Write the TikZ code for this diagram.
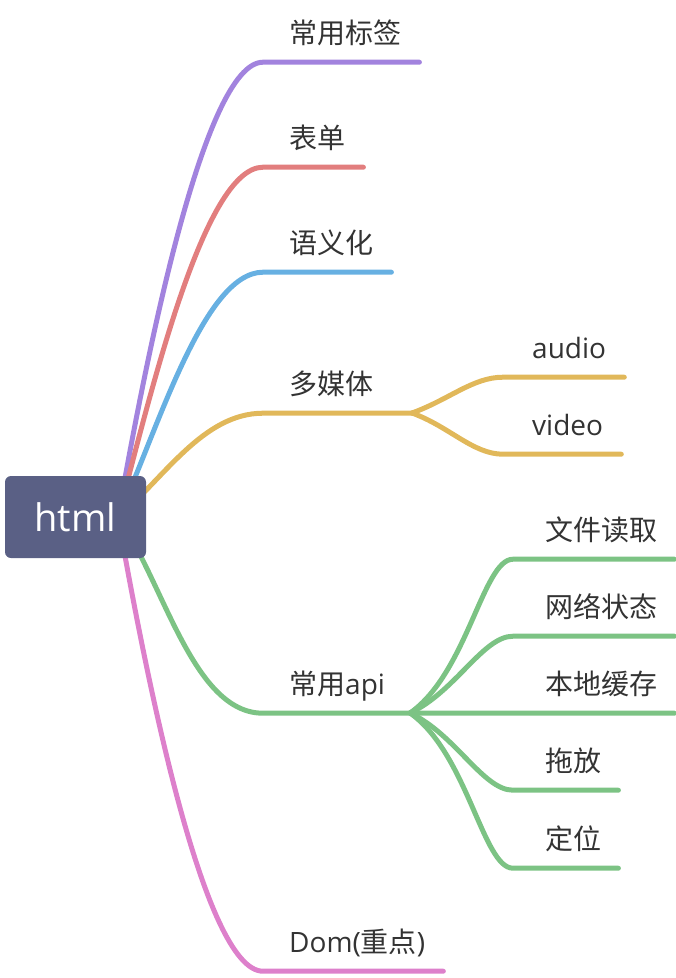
\documentclass[tikz,border=0pt]{standalone}
\usepackage{fontspec}
\setmainfont{Open Sans}
\newfontfamily\cjk{Noto Sans CJK SC}
\usetikzlibrary{positioning}
\definecolor{cbox}{HTML}{5A6085}
\definecolor{ctext}{HTML}{333333}
\definecolor{cpurple}{HTML}{A283DE}
\definecolor{cred}{HTML}{E27E7E}
\definecolor{cblue}{HTML}{67B0E2}
\definecolor{corange}{HTML}{E1B85A}
\definecolor{cgreen}{HTML}{7CC384}
\definecolor{cpink}{HTML}{DD80CB}
\tikzset{
  every picture/.style={x=1pt, y=1pt},
  root/.style={fill=cbox, text=white, rounded corners=6pt, minimum width=141pt, minimum height=82pt, inner sep=0pt, font=\fontsize{38}{44}\selectfont},
  topic/.style={anchor=base west, inner xsep=0pt, inner ysep=19pt, text depth=0pt, text=ctext, font=\fontsize{28}{32}\selectfont},
  branch/.style={draw=#1, line width=5pt, line cap=round},
}

\begin{document}
\begin{tikzpicture}
  \useasboundingbox (0,0) rectangle (676,-978);
  \coordinate (hub) at (118,-517);
  \coordinate (fmedia) at (412,-413);
  \coordinate (fapi) at (410,-713);
  % first level
  \node[topic] (tags) at (289,-43) {\cjk 常用标签};
  \node[topic] (form) at (289,-148) {\cjk 表单};
  \node[topic] (sem) at (289,-253) {\cjk 语义化};
  \node[topic] (media) at (289,-394) {\cjk 多媒体};
  \node[topic] (api) at (289,-694) {{\cjk 常用}api};
  \node[topic] (dom) at (289,-952) {Dom({\cjk 重点})};
  \draw[branch=cpurple] (hub) to[out=80, in=180, out distance=150pt, in distance=60pt] ([xshift=-26pt]tags.south west) -- ([xshift=18pt]tags.south east);
  \draw[branch=cred] (hub) to[out=75, in=180, out distance=120pt, in distance=60pt] ([xshift=-26pt]form.south west) -- ([xshift=18pt]form.south east);
  \draw[branch=cblue] (hub) to[out=65, in=180, out distance=90pt, in distance=60pt] ([xshift=-26pt]sem.south west) -- ([xshift=18pt]sem.south east);
  \draw[branch=corange] (hub) to[out=40, in=180, out distance=60pt, in distance=60pt] ([xshift=-26pt]media.south west) -- (fmedia);
  \draw[branch=cgreen] (hub) to[out=-55, in=180, out distance=80pt, in distance=70pt] ([xshift=-26pt]api.south west) -- (fapi);
  \draw[branch=cpink] (hub) to[out=-80, in=180, out distance=150pt, in distance=60pt] ([xshift=-26pt]dom.south west) -- ([xshift=18pt]dom.south east);
  % media
  \foreach \n/\y/\a in {audio/358/20, video/435/-20} {
    \node[topic] (\n) at (532,-\y) {\n};
    \draw[branch=corange] (fmedia) to[out=\a, in=180, out distance=40pt, in distance=30pt] ([xshift=-29pt]\n.south west) -- ([xshift=18pt]\n.south east);
  }
  % api
  \node[topic] (cache) at (545,-694) {\cjk 本地缓存};
  \draw[branch=cgreen] (fapi) -- ([xshift=17pt]cache.south east);
  \foreach \n/\t/\y/\a/\d in {read/文件读取/540/35/70pt, net/网络状态/617/25/50pt, drag/拖放/771/-25/50pt, pos/定位/849/-35/70pt} {
    \node[topic] (\n) at (545,-\y) {\cjk \t};
    \draw[branch=cgreen] (fapi) to[out=\a, in=180, out distance=\d, in distance=30pt] ([xshift=-32pt]\n.south west) -- ([xshift=17pt]\n.south east);
  }
  \node[root] (html) at (75.5,-517) {html};
\end{tikzpicture}
\end{document}
